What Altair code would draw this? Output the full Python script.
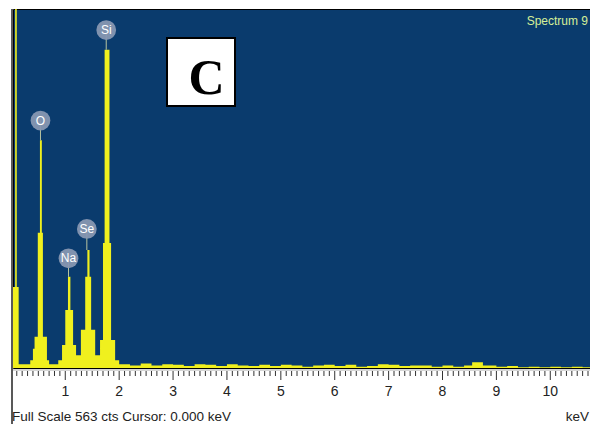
import altair as alt
import pandas as pd

# ---- spectrum (bin start energy in keV, counts) ----
energy_kev = [0.03, 0.07, 0.10, 0.135,
              0.35, 0.40, 0.43, 0.49, 0.53, 0.565, 0.585, 0.66, 0.70,
              0.87, 0.94, 1.00, 1.05, 1.095, 1.145, 1.20,
              1.29, 1.37, 1.41, 1.45, 1.48, 1.555,
              1.645, 1.70, 1.73, 1.82, 1.85, 1.925, 2.00,
              2.2, 2.4, 2.6, 2.8, 3.0, 3.2, 3.4, 3.6, 3.8, 4.0, 4.2, 4.4, 4.6, 4.8,
              5.0, 5.2, 5.4, 5.6, 5.8, 6.0, 6.2, 6.4, 6.6, 6.8, 7.0, 7.2, 7.4, 7.6,
              7.8, 8.0, 8.2, 8.4, 8.55, 8.75, 9.0, 9.2, 9.4, 9.6, 9.8, 10.0, 10.2,
              10.4, 10.6, 10.75]
counts = [127, 620, 127, 6,
          12, 30, 49, 212, 357, 212, 49, 12, 6,
          12, 36, 91, 143, 91, 36, 20,
          60, 143, 185, 143, 60, 20,
          44, 196, 499, 196, 44, 12, 6,
          4, 7, 4, 6, 5, 3, 6, 5, 3, 6, 4, 3, 5, 3,
          5, 4, 2, 4, 5, 3, 5, 2, 3, 6, 5, 3, 4, 4,
          2, 4, 2, 4, 9, 4, 2, 3, 1, 2, 1, 2, 1,
          2, 1, 1]

# ---- peak labels ----
peak_elements = ["O", "Na", "Se", "Si"]
peak_energy = [0.54, 1.06, 1.40, 1.76]
peak_label_counts = [388, 172, 218, 530]
peak_top_counts = [357, 143, 185, 499]

full_scale = 563
cursor_kev = "0.000"
spectrum_name = "Spectrum 9"
panel_letter = "C"
x_domain = [0.03, 10.737]
major_ticks = [1, 2, 3, 4, 5, 6, 7, 8, 9, 10]
minor_ticks = [round(0.1 * i, 1) for i in range(1, 108) if i % 10 != 0]

W, H = 577, 359
FONT = "Liberation Sans"

spec_df = pd.DataFrame({"energy": energy_kev, "counts": counts})
peaks_df = pd.DataFrame({"element": peak_elements, "energy": peak_energy,
                         "label": peak_label_counts, "top": peak_top_counts})
minor_df = pd.DataFrame({"tick": minor_ticks})
major_df = pd.DataFrame({"tick": major_ticks, "text": [str(t) for t in major_ticks]})

xscale = alt.Scale(domain=x_domain, nice=False, zero=False)
yscale = alt.Scale(domain=[0, full_scale], nice=False)

area = alt.Chart(spec_df).mark_area(
    interpolate="step-after", color="#f0f01e", clip=True
).encode(
    x=alt.X("energy:Q", scale=xscale, axis=None),
    y=alt.Y("counts:Q", scale=yscale, axis=None),
)

ruler_df = pd.DataFrame({"a": [x_domain[0]], "b": [x_domain[1]]})
ruler = alt.Chart(ruler_df).mark_rule(color="#c8c8c8", strokeWidth=1.5).encode(
    x=alt.X("a:Q", scale=xscale, axis=None), x2="b:Q", y=alt.value(H + 2)
)

minor = alt.Chart(minor_df).mark_rule(color="#333333", strokeWidth=1).encode(
    x=alt.X("tick:Q", scale=xscale, axis=None),
    y=alt.value(H + 3),
    y2=alt.value(H + 8),
)

major = alt.Chart(major_df).mark_rule(color="#333333", strokeWidth=1).encode(
    x=alt.X("tick:Q", scale=xscale, axis=None),
    y=alt.value(H + 3),
    y2=alt.value(H + 12),
)

major_labels = alt.Chart(major_df).mark_text(
    font=FONT, fontSize=14, color="#222222", baseline="middle"
).encode(
    x=alt.X("tick:Q", scale=xscale, axis=None),
    y=alt.value(H + 24),
    text="text:N",
)

connectors = alt.Chart(peaks_df).mark_rule(color="#b8c4a0", strokeWidth=1).encode(
    x=alt.X("energy:Q", scale=xscale, axis=None),
    y=alt.Y("label:Q", scale=yscale, axis=None),
    y2="top:Q",
)

circles = alt.Chart(peaks_df).mark_point(
    shape="circle", filled=True, size=390, color="#8797b2", opacity=0.95
).encode(
    x=alt.X("energy:Q", scale=xscale, axis=None),
    y=alt.Y("label:Q", scale=yscale, axis=None),
)

labels = alt.Chart(peaks_df).mark_text(
    color="white", fontSize=12, font=FONT, baseline="middle"
).encode(
    x=alt.X("energy:Q", scale=xscale, axis=None),
    y=alt.Y("label:Q", scale=yscale, axis=None),
    text="element:N",
)

panel_df = pd.DataFrame({"letter": [panel_letter]})
box = alt.Chart(panel_df).mark_rect(fill="white", stroke="black", strokeWidth=2).encode(
    x=alt.value(154), x2=alt.value(222), y=alt.value(29), y2=alt.value(97)
)
letter = alt.Chart(panel_df).mark_text(
    font="Liberation Serif", fontWeight="bold", fontSize=50, color="black", baseline="alphabetic"
).encode(x=alt.value(193.5), y=alt.value(85), text="letter:N")

name_df = pd.DataFrame({"name": [spectrum_name]})
name_txt = alt.Chart(name_df).mark_text(
    font=FONT, fontSize=12, color="#d6ef98", align="right", baseline="middle"
).encode(x=alt.value(W - 2), y=alt.value(12), text="name:N")

foot_df = pd.DataFrame({"foot": [f"Full Scale {full_scale} cts  Cursor: {cursor_kev} keV"]})
foot_txt = alt.Chart(foot_df).mark_text(
    font=FONT, fontSize=13.5, color="#222222", align="left", baseline="middle"
).encode(x=alt.value(-1), y=alt.value(408), text="foot:N")

unit_df = pd.DataFrame({"unit": ["keV"]})
unit_txt = alt.Chart(unit_df).mark_text(
    font=FONT, fontSize=13.5, color="#222222", align="right", baseline="middle"
).encode(x=alt.value(W - 1), y=alt.value(408), text="unit:N")

frame_left = alt.Chart(unit_df).mark_rule(color="#222222", strokeWidth=1.5).encode(
    x=alt.value(-1), y=alt.value(0), y2=alt.value(H + 60)
)

chart = alt.layer(
    area, ruler, minor, major, major_labels, connectors, circles, labels,
    box, letter, name_txt, foot_txt, unit_txt, frame_left
).properties(
    width=W, height=H,
    background="white",
    padding={"left": 5, "top": 1, "right": 0, "bottom": 56},
    autosize=alt.AutoSizeParams(type="none"),
).configure_view(
    fill="#0a3b6d", stroke="black", strokeWidth=1
)

chart.save("out.html", embed_options={"renderer": "svg", "actions": False})
